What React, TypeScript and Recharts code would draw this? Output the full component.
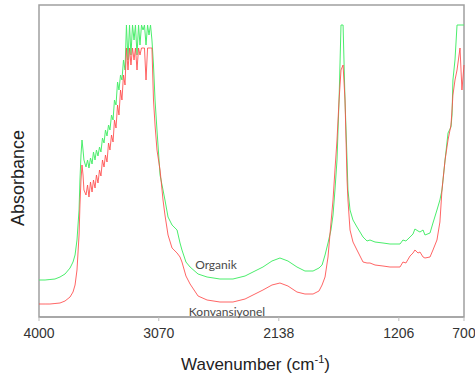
import React from 'react';
import {
  LineChart,
  Line,
  XAxis,
  YAxis,
  ReferenceArea,
  ReferenceDot,
  Label,
} from 'recharts';

// wavenumbers (cm-1)
const wavenumbers = [
  4000, 3953, 3915, 3876, 3837, 3798, 3759, 3736, 3720, 3705,
  3689, 3682, 3674, 3666, 3658, 3651, 3635, 3623, 3612, 3600,
  3588, 3577, 3565, 3554, 3542, 3530, 3519, 3507, 3495, 3484,
  3472, 3460, 3449, 3437, 3425, 3414, 3402, 3390, 3379, 3367,
  3356, 3344, 3332, 3321, 3309, 3297, 3286, 3274, 3262, 3251,
  3239, 3227, 3216, 3204, 3192, 3181, 3169, 3157, 3146, 3134,
  3123, 3111, 3099, 3084, 3060, 3037, 3022, 2998, 2967, 2928,
  2905, 2890, 2859, 2827, 2765, 2695, 2595, 2494, 2400, 2323,
  2261, 2191, 2129, 2067, 1997, 1935, 1872, 1826, 1802, 1779,
  1756, 1733, 1717, 1702, 1686, 1670, 1655, 1639, 1624, 1608,
  1601, 1585, 1562, 1531, 1484, 1453, 1430, 1391, 1329, 1275,
  1228, 1197, 1174, 1151, 1119, 1096, 1081, 1057, 1042, 1018,
  1003, 964, 941, 910, 887, 871, 847, 824, 801, 793,
  786, 770, 754, 731, 716, 700,
];

const organik = [
  0.37, 0.37, 0.375, 0.38, 0.4, 0.43, 0.49, 0.55, 0.62, 0.77,
  1.07, 1.37, 1.62, 1.77, 1.67, 1.57, 1.5, 1.57, 1.49, 1.59,
  1.53, 1.65, 1.57, 1.67, 1.61, 1.7, 1.65, 1.79, 1.74, 1.87,
  1.81, 1.92, 1.87, 2.02, 1.97, 2.17, 2.12, 2.35, 2.27, 2.42,
  2.37, 2.57, 2.47, 2.92, 2.57, 2.92, 2.62, 2.92, 2.77, 2.92,
  2.62, 2.92, 2.72, 2.92, 2.87, 2.92, 2.72, 2.92, 2.82, 2.92,
  2.77, 2.52, 2.17, 1.87, 1.42, 1.27, 1.17, 1.0, 0.92, 0.87,
  0.74, 0.67, 0.55, 0.5, 0.43, 0.4, 0.38, 0.38, 0.41, 0.46,
  0.5, 0.56, 0.59, 0.56, 0.5, 0.46, 0.46, 0.49, 0.52, 0.62,
  0.74, 0.87, 1.02, 1.27, 1.57, 2.17, 2.92, 2.92, 2.17, 1.57,
  1.27, 1.07, 0.97, 0.9, 0.8, 0.76, 0.77, 0.75, 0.74, 0.73,
  0.73, 0.73, 0.77, 0.76, 0.8, 0.83, 0.88, 0.86, 0.85, 0.87,
  0.82, 0.84, 0.94, 1.07, 1.17, 1.27, 1.57, 1.84, 1.9, 2.02,
  2.37, 2.57, 2.92, 2.92, 2.92, 2.92,
];

const konvansiyonel = [
  0.13, 0.13, 0.13, 0.135, 0.14, 0.16, 0.2, 0.25, 0.32, 0.47,
  0.82, 1.12, 1.37, 1.52, 1.42, 1.27, 1.22, 1.32, 1.2, 1.35,
  1.25, 1.37, 1.29, 1.42, 1.34, 1.47, 1.41, 1.57, 1.5, 1.62,
  1.55, 1.74, 1.67, 1.82, 1.75, 1.97, 1.89, 2.12, 2.02, 2.27,
  2.17, 2.42, 2.32, 2.69, 2.47, 2.69, 2.52, 2.69, 2.57, 2.69,
  2.47, 2.69, 2.62, 2.69, 2.69, 2.69, 2.37, 2.69, 2.69, 2.69,
  2.69, 2.17, 1.92, 1.67, 1.47, 1.17, 1.02, 0.82, 0.69, 0.64,
  0.6, 0.55, 0.41, 0.33, 0.21, 0.17, 0.15, 0.15, 0.18, 0.23,
  0.27, 0.32, 0.34, 0.31, 0.25, 0.23, 0.23, 0.26, 0.32, 0.4,
  0.6, 0.94, 1.17, 1.47, 1.77, 2.17, 2.47, 2.52, 2.17, 1.37,
  1.17, 0.87, 0.75, 0.67, 0.55, 0.54, 0.54, 0.52, 0.51, 0.5,
  0.5, 0.5, 0.55, 0.54, 0.61, 0.64, 0.67, 0.64, 0.65, 0.6,
  0.59, 0.6, 0.67, 0.77, 0.95, 1.27, 1.57, 1.77, 1.92, 2.07,
  2.22, 2.37, 2.47, 2.69, 2.27, 2.52,
];

const xTicks = [4000, 3070, 2138, 1206, 700];

// in-plot series names
const noteNames = ['Organik', 'Konvansiyonel'];
const noteWn = [2626, 2540];
const noteAbs = [0.52, 0.05];

const data = wavenumbers.map((wn, i) => ({
  wn,
  organik: organik[i],
  konvansiyonel: konvansiyonel[i],
}));

const AXIS_FONT = '"Liberation Sans", Arial, sans-serif';

function XTitle({ viewBox }: any) {
  const { x, width } = viewBox;
  return (
    <text x={x + width / 2 + 4} y={370} textAnchor="middle" fontFamily={AXIS_FONT} fontSize={17} fill="#222">
      Wavenumber (cm
      <tspan fontSize={11} dy={-7}>-1</tspan>
      <tspan dy={7}>)</tspan>
    </text>
  );
}

function YTitle() {
  return (
    <text
      x={24}
      y={178}
      transform="rotate(-90 24 178)"
      textAnchor="middle"
      fontFamily={AXIS_FONT}
      fontSize={18}
      fill="#222"
    >
      Absorbance
    </text>
  );
}

export default function App() {
  return (
    <div style={{ width: 475, height: 383, background: '#fff' }}>
      <style>{'body{margin:0}'}</style>
      <LineChart width={475} height={383} data={data} margin={{ top: 5, right: 11, left: 0, bottom: 10 }}>
        <XAxis
          dataKey="wn"
          type="number"
          domain={[700, 4000]}
          reversed
          ticks={xTicks}
          interval={0}
          height={56}
          tickSize={4}
          tickMargin={7}
          axisLine={{ stroke: '#999' }}
          tickLine={{ stroke: '#bbb' }}
          tick={{ fontSize: 14, fill: '#333', fontFamily: AXIS_FONT }}
        >
          <Label content={<XTitle />} />
        </XAxis>
        <YAxis
          type="number"
          domain={[0, 3.12]}
          width={39}
          tick={false}
          tickLine={false}
          axisLine={false}
        >
          <Label content={<YTitle />} />
        </YAxis>
        <ReferenceArea
          x1={4000}
          x2={700}
          y1={0}
          y2={3.12}
          fill="none"
          stroke="#a0a0a0"
          strokeWidth={1.5}
          ifOverflow="visible"
        />
        <Line
          dataKey="organik"
          stroke="#4bee6c"
          strokeWidth={1}
          dot={false}
          isAnimationActive={false}
          type="linear"
        />
        <Line
          dataKey="konvansiyonel"
          stroke="#ff4a4a"
          strokeWidth={1}
          strokeOpacity={0.85}
          dot={false}
          isAnimationActive={false}
          type="linear"
        />
        {noteNames.map((name, i) => (
          <ReferenceDot
            key={name}
            x={noteWn[i]}
            y={noteAbs[i]}
            r={1}
            fill="none"
            stroke="none"
            ifOverflow="visible"
            label={{ value: name, position: 'center', fontSize: 12, fill: '#4a4a4a', fontFamily: 'Lato, sans-serif' }}
          />
        ))}
      </LineChart>
    </div>
  );
}
